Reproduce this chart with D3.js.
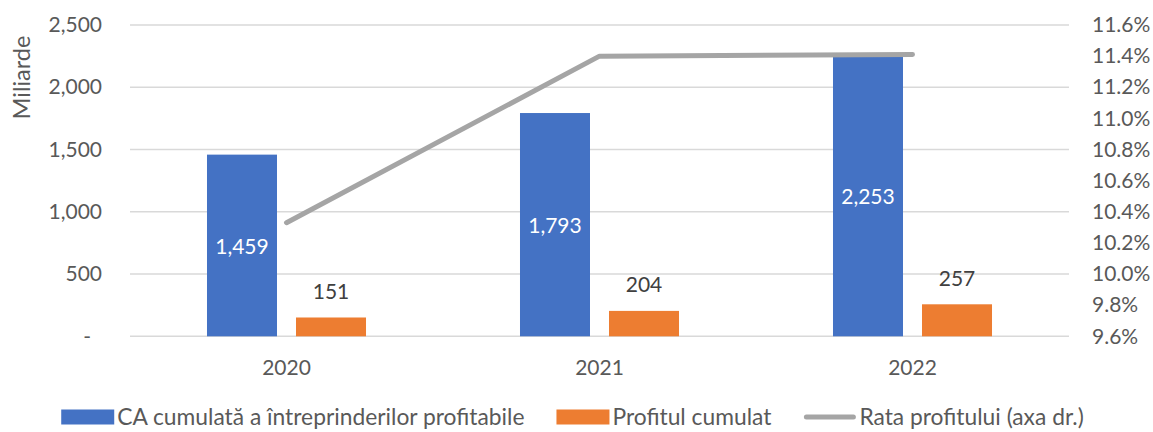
<!DOCTYPE html>
<html>
<head>
<meta charset="utf-8">
<script src="https://cdn.jsdelivr.net/npm/d3@7"></script>
<style>
  html, body { margin: 0; padding: 0; background: #ffffff; }
  svg { display: block; font-family: Lato, "Open Sans", sans-serif; }
</style>
</head>
<body>
<svg id="chart" width="1153" height="432"></svg>
<script>
// ---- data ----
const categories = ["2020", "2021", "2022"];
const caValues = [1459, 1793, 2253];
const profitValues = [151, 204, 257];
const rateValues = [10.33, 11.40, 11.41];
const leftTicks = [0, 500, 1000, 1500, 2000, 2500];
const rightTicks = [9.6, 9.8, 10.0, 10.2, 10.4, 10.6, 10.8, 11.0, 11.2, 11.4, 11.6];
const seriesNames = ["CA cumulată a întreprinderilor profitabile", "Profitul cumulat", "Rata profitului (axa dr.)"];
const axisTitle = "Miliarde";

// ---- layout ----
const W = 1153, H = 432;
const plot = { left: 130, right: 1069, top: 25, bottom: 336.3 };
const colors = { ca: "#4472C4", profit: "#ED7D31", rate: "#A5A5A5", grid: "#D9D9D9", text: "#595959", label: "#404040" };
const fontSize = 21;
const legendFont = 22.8;

const svg = d3.select("#chart");

const x = d3.scaleBand().domain(categories).range([plot.left, plot.right]).paddingInner(0).paddingOuter(0);
const xs = d3.scaleBand().domain(["ca", "profit"]).range([0, x.bandwidth()]).paddingInner(19 / 89).paddingOuter(0.865);
const y = d3.scaleLinear().domain([0, 2500]).range([plot.bottom, plot.top]);
const yR = d3.scaleLinear().domain([9.6, 11.6]).range([plot.bottom, plot.top]);

// gridlines
svg.append("g")
  .selectAll("line")
  .data(leftTicks)
  .join("line")
  .attr("x1", plot.left).attr("x2", plot.right)
  .attr("y1", d => y(d)).attr("y2", d => y(d))
  .attr("stroke", colors.grid).attr("stroke-width", 1.5);

// left axis
const gL = svg.append("g")
  .attr("transform", `translate(${plot.left},0)`)
  .call(d3.axisLeft(y).tickValues(leftTicks).tickSize(0).tickPadding(28)
    .tickFormat(d => d === 0 ? "-" : d3.format(",")(d)));
gL.select(".domain").remove();
gL.selectAll("text").attr("fill", colors.text).attr("font-size", fontSize).attr("font-family", "Lato, 'Open Sans', sans-serif");
gL.selectAll(".tick").filter(d => d === 0).select("text").attr("dx", -11);

// right axis
const gR = svg.append("g")
  .attr("transform", `translate(${plot.right},0)`)
  .call(d3.axisRight(yR).tickValues(rightTicks).tickSize(0).tickPadding(23)
    .tickFormat(d => d3.format(".1f")(d) + "%"));
gR.select(".domain").remove();
gR.selectAll("text").attr("fill", colors.text).attr("font-size", fontSize).attr("font-family", "Lato, 'Open Sans', sans-serif");

// bottom axis
const gB = svg.append("g")
  .attr("transform", `translate(0,${plot.bottom})`)
  .call(d3.axisBottom(x).tickSize(0).tickPadding(24));
gB.select(".domain").remove();
gB.selectAll("text").attr("fill", colors.text).attr("font-size", fontSize).attr("font-family", "Lato, 'Open Sans', sans-serif");

// axis title
svg.append("text")
  .attr("transform", `translate(22,${(plot.top + 130) / 2}) rotate(-90)`)
  .attr("text-anchor", "middle")
  .attr("dy", "0.35em")
  .attr("fill", colors.text)
  .attr("font-size", 23.5)
  .text(axisTitle);

// bars
const rows = categories.map((c, i) => ({ cat: c, ca: caValues[i], profit: profitValues[i], rate: rateValues[i] }));

const gBars = svg.append("g");
gBars.selectAll("rect.ca")
  .data(rows).join("rect").attr("class", "ca")
  .attr("x", d => x(d.cat) + xs("ca"))
  .attr("width", xs.bandwidth())
  .attr("y", d => y(d.ca))
  .attr("height", d => y(0) - y(d.ca))
  .attr("fill", colors.ca);
gBars.selectAll("rect.profit")
  .data(rows).join("rect").attr("class", "profit")
  .attr("x", d => x(d.cat) + xs("profit"))
  .attr("width", xs.bandwidth())
  .attr("y", d => y(d.profit))
  .attr("height", d => y(0) - y(d.profit))
  .attr("fill", colors.profit);

// bar labels
gBars.selectAll("text.calab")
  .data(rows).join("text").attr("class", "calab")
  .attr("x", d => x(d.cat) + xs("ca") + xs.bandwidth() / 2)
  .attr("y", d => (y(d.ca) + y(0)) / 2 + 1)
  .attr("dy", "0.35em")
  .attr("text-anchor", "middle")
  .attr("fill", "#ffffff")
  .attr("font-size", fontSize)
  .text(d => d3.format(",")(d.ca));
gBars.selectAll("text.prlab")
  .data(rows).join("text").attr("class", "prlab")
  .attr("x", d => x(d.cat) + xs("profit") + xs.bandwidth() / 2)
  .attr("y", d => y(d.profit) - 26)
  .attr("dy", "0.35em")
  .attr("text-anchor", "middle")
  .attr("fill", colors.label)
  .attr("font-size", fontSize)
  .text(d => d3.format(",")(d.profit));

// line
const line = d3.line().x(d => x(d.cat) + x.bandwidth() / 2).y(d => yR(d.rate));
svg.append("path")
  .datum(rows)
  .attr("d", line)
  .attr("fill", "none")
  .attr("stroke", colors.rate)
  .attr("stroke-width", 5)
  .attr("stroke-linecap", "round")
  .attr("stroke-linejoin", "round");

// legend
const legendY = 417;
const legend = svg.append("g");
const items = seriesNames.map((name, i) => ({ name, type: i < 2 ? "rect" : "line", color: [colors.ca, colors.profit, colors.rate][i] }));
const swW = 53, swGap = 3, itemGap = 32;
const itemG = legend.selectAll("g").data(items).join("g");
itemG.append("text")
  .attr("x", swW + swGap)
  .attr("y", legendY)
  .attr("dy", "0.35em")
  .attr("fill", colors.text)
  .attr("font-size", legendFont)
  .text(d => d.name);
itemG.each(function (d) {
  const g = d3.select(this);
  if (d.type === "rect") {
    g.append("rect").attr("x", 0).attr("y", legendY - 7.5).attr("width", swW).attr("height", 15).attr("fill", d.color);
  } else {
    g.append("line").attr("x1", 3).attr("x2", swW - 3).attr("y1", legendY).attr("y2", legendY)
      .attr("stroke", d.color).attr("stroke-width", 5).attr("stroke-linecap", "round");
  }
});
const widths = [];
itemG.each(function () { widths.push(swW + swGap + d3.select(this).select("text").node().getComputedTextLength()); });
const total = d3.sum(widths) + itemGap * (widths.length - 1);
let cx = 572.5 - total / 2;
itemG.attr("transform", (d, i) => { const t = `translate(${cx},0)`; cx += widths[i] + itemGap; return t; });
</script>
</body>
</html>
